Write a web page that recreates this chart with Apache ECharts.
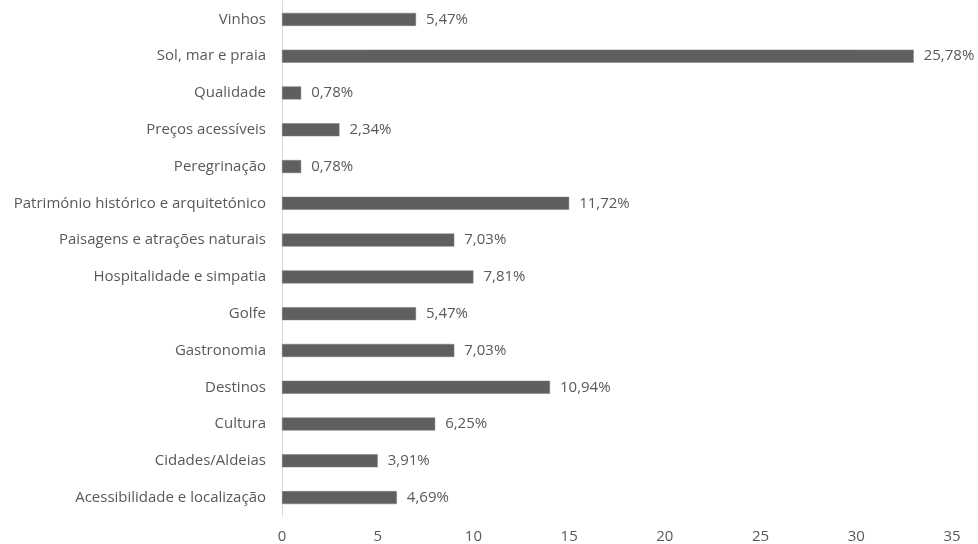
<!DOCTYPE html>
<html>
<head>
<meta charset="utf-8">
<script src="https://cdn.jsdelivr.net/npm/echarts@6/dist/echarts.min.js"></script>
<style>
  html, body { margin: 0; padding: 0; background: #fff; }
  #chart { width: 978px; height: 544px; }
</style>
</head>
<body>
<div id="chart"></div>
<script>
// Categories, listed bottom to top as the category axis draws them
const categories = [
  'Acessibilidade e localização',
  'Cidades/Aldeias',
  'Cultura',
  'Destinos',
  'Gastronomia',
  'Golfe',
  'Hospitalidade e simpatia',
  'Paisagens e atrações naturais',
  'Património histórico e arquitetónico',
  'Peregrinação',
  'Preços acessíveis',
  'Qualidade',
  'Sol, mar e praia',
  'Vinhos'
];

// Number of mentions per category
const counts = [6, 5, 8, 14, 9, 7, 10, 9, 15, 1, 3, 1, 33, 7];

// Value axis ticks
const xTicks = [0, 5, 10, 15, 20, 25, 30, 35];

const total = counts.reduce((a, b) => a + b, 0);
const pct = v => (v / total * 100).toFixed(2).replace('.', ',') + '%';

const FONT = 'Open Sans';
const TXT = '#595959';
const FS = 15;

const chart = echarts.init(document.getElementById('chart'));
chart.setOption({
  animation: false,
  textStyle: { fontFamily: FONT },
  grid: { left: 282, right: 26, top: 1, bottom: 28, containLabel: false },
  xAxis: {
    type: 'value',
    min: xTicks[0],
    max: xTicks[xTicks.length - 1],
    interval: 5,
    axisLine: { show: false },
    axisTick: { show: false },
    splitLine: { show: false },
    axisLabel: { color: TXT, fontSize: FS, fontFamily: FONT, margin: 13 }
  },
  yAxis: {
    type: 'category',
    data: categories,
    axisLine: { show: true, lineStyle: { color: '#d9d9d9', width: 1 } },
    axisTick: { show: false },
    axisLabel: { color: TXT, fontSize: FS, fontFamily: FONT, margin: 16 }
  },
  series: [{
    type: 'bar',
    data: counts,
    barWidth: 13,
    itemStyle: { color: '#5f5f5f', borderColor: '#7a7a7a', borderWidth: 0.5 },
    label: {
      show: true,
      position: 'right',
      distance: 10,
      color: TXT,
      fontSize: FS,
      fontFamily: FONT,
      formatter: p => pct(p.value)
    }
  }]
});
</script>
</body>
</html>
